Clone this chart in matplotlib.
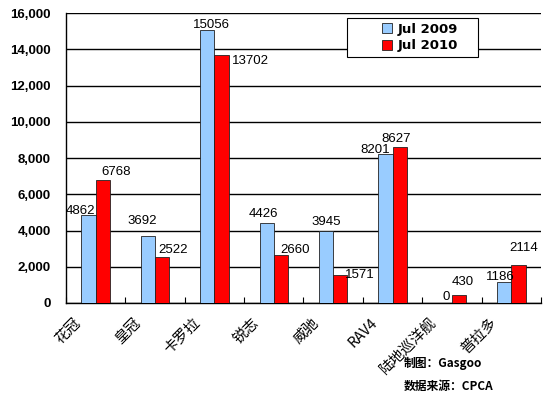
import numpy as np
import matplotlib.pyplot as plt
from matplotlib.patches import Rectangle
from matplotlib.transforms import ScaledTranslation

plt.rcParams['font.family'] = ['Liberation Sans', 'Noto Sans CJK SC', 'DejaVu Sans']

models = ["花冠", "皇冠", "卡罗拉", "锐志", "威驰", "RAV4", "陆地巡洋舰", "普拉多"]
jul_2009 = [4862, 3692, 15056, 4426, 3945, 8201, 0, 1186]
jul_2010 = [6768, 2522, 13702, 2660, 1571, 8627, 430, 2114]
yticks = [0, 2000, 4000, 6000, 8000, 10000, 12000, 14000, 16000]

# label nudges (px) as Excel placed them: (dx, dy up from bar top)
off_2009 = [(-8, 4), (-6, 15), (4, 5), (-3, 9), (0, 9), (-10, 4), (1, 6), (-4, 5)]
off_2010 = [(13, 8), (11, 7), (29, -6), (14, 5), (20, 0), (-4, 8), (4, 13), (5, 17)]

fig = plt.figure(figsize=(5.5, 3.98), dpi=100)
ax = fig.add_axes([0.12, 0.2387, 0.8636, 0.7286])

x = np.arange(len(models))
w = 0.24
b1 = ax.bar(x - w / 2, jul_2009, w, color="#99CCFF", edgecolor="#222222", linewidth=0.6,
            label="Jul 2009", zorder=3)
b2 = ax.bar(x + w / 2, jul_2010, w, color="#FF0000", edgecolor="#222222", linewidth=0.6,
            label="Jul 2010", zorder=3)

px = 0.72
for bars, vals, offs in [(b1, jul_2009, off_2009), (b2, jul_2010, off_2010)]:
    for r, v, (dx, dy) in zip(bars, vals, offs):
        ax.annotate(str(v), (r.get_x() + r.get_width() / 2, v),
                    xytext=(dx * px, dy * px), textcoords="offset points",
                    ha="center", va="center", fontsize=9.5, zorder=4)

ax.set_xlim(-0.5, len(models) - 0.5)
ax.set_ylim(0, 16000)
ax.set_yticks(yticks)
ax.set_yticklabels([f"{t:,}" for t in yticks], fontweight="bold", fontsize=9.5)
ax.tick_params(axis="y", length=0, pad=11)
ax.yaxis.grid(True, color="black", linewidth=1, zorder=0)

ax.set_xticks(x)
ax.set_xticklabels(models, rotation=45, ha="right", fontsize=10.5,
                   family=["Noto Sans CJK SC", "DejaVu Sans"])
ax.tick_params(axis="x", length=0, pad=4)
shift = ScaledTranslation(-12 / 100, -7 / 100, fig.dpi_scale_trans)
for lab in ax.get_xticklabels():
    lab.set_transform(lab.get_transform() + shift)
ax.set_xticks(np.arange(len(models) + 1) - 0.5, minor=True)
ax.tick_params(axis="x", which="minor", direction="in", length=4, width=0.8)

for s in ["top", "right"]:
    ax.spines[s].set_visible(False)
ax.spines["left"].set_linewidth(1)
ax.spines["bottom"].set_linewidth(1)

# legend box is wider than its contents in the original
ax.add_patch(Rectangle((0.5916, 0.848), 0.2758, 0.1345, transform=ax.transAxes,
                       facecolor="white", edgecolor="black", linewidth=0.8,
                       zorder=5, clip_on=False))
leg = ax.legend(loc="center", bbox_to_anchor=(0.745, 0.915), frameon=False,
                handlelength=0.8, handleheight=0.8, handletextpad=0.4,
                borderpad=0.2, labelspacing=0.25,
                prop={"family": "DejaVu Sans", "weight": "bold", "size": 9.5})
leg.set_zorder(6)

fig.text(0.735, 0.088, "制图：Gasgoo", fontsize=8.5, fontweight="bold",
         family=["Noto Sans CJK SC", "DejaVu Sans"], va="center")
fig.text(0.735, 0.028, "数据来源：CPCA", fontsize=8.5, fontweight="bold",
         family=["Noto Sans CJK SC", "DejaVu Sans"], va="center")

fig.savefig("out.png", dpi=100)
